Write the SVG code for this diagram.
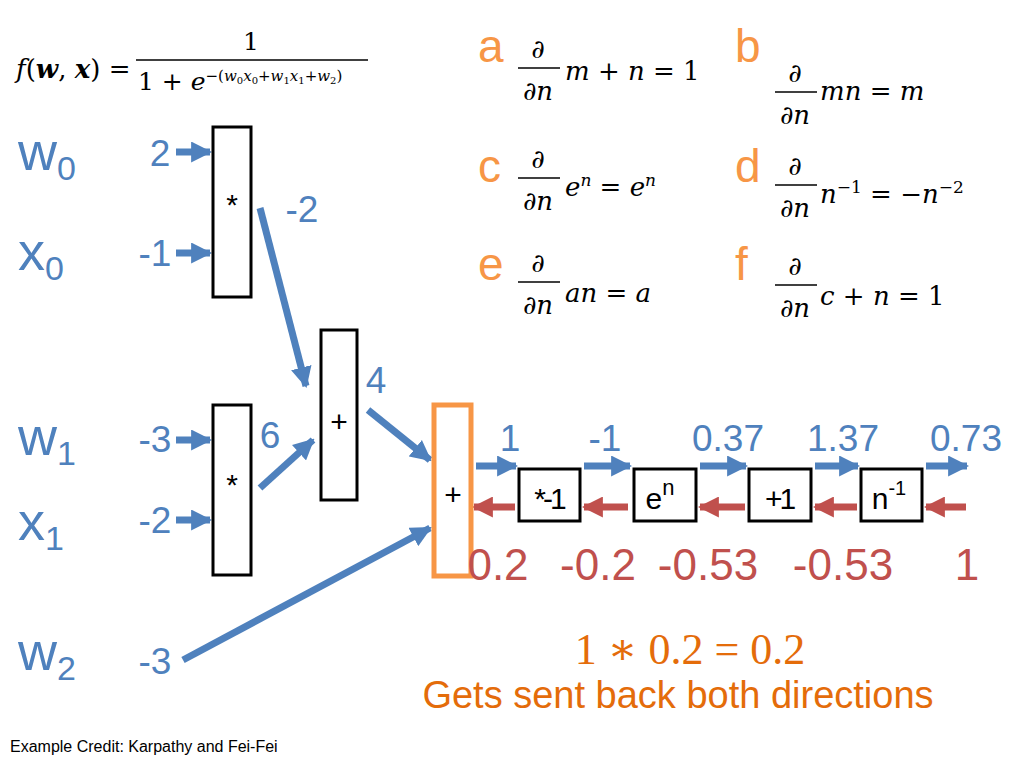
<svg xmlns="http://www.w3.org/2000/svg" width="1024" height="768" viewBox="0 0 1024 768">
<defs>
<marker id="bh" viewBox="0 0 10 10" refX="9" refY="5" markerWidth="3" markerHeight="3" orient="auto" markerUnits="strokeWidth"><path d="M0,0L10,5L0,10z" fill="#4f81bd"/></marker>
<marker id="rh" viewBox="0 0 10 10" refX="9" refY="5" markerWidth="3" markerHeight="3" orient="auto" markerUnits="strokeWidth"><path d="M0,0L10,5L0,10z" fill="#c0504d"/></marker>
</defs>
<style>
.box{fill:#fff;stroke:#000;stroke-width:3}
.op{font-family:"Liberation Sans",Arial,sans-serif;font-size:30px;fill:#000;text-anchor:middle}
.b{stroke:#4f81bd;stroke-width:7;fill:none;marker-end:url(#bh)}
.r{stroke:#c0504d;stroke-width:7;fill:none;marker-end:url(#rh)}
.bl{font-family:"Liberation Sans",Arial,sans-serif;fill:#4f81bd;font-size:37px}
.rl{font-family:"Liberation Sans",Arial,sans-serif;fill:#c0504d;font-size:44px;text-anchor:middle}
.var{font-family:"Liberation Sans",Arial,sans-serif;fill:#4f81bd;font-size:54px}
.lt{font-family:"Liberation Sans",Arial,sans-serif;fill:#f79646;font-size:46px}
.m{font-family:"DejaVu Serif","Liberation Serif",serif;font-style:italic;font-size:26px;fill:#000}
.mu{font-family:"DejaVu Serif","Liberation Serif",serif;font-size:25px;fill:#000}
</style>
<rect width="1024" height="768" fill="#fff"/>
<g id="formula">
<text x="16" y="78" class="m" font-size="22">f<tspan font-style="normal">(</tspan><tspan font-weight="bold">w</tspan><tspan font-style="normal">, </tspan><tspan font-weight="bold">x</tspan><tspan font-style="normal">) =</tspan></text>
<text x="251" y="50" class="mu" font-size="21" text-anchor="middle">1</text>
<line x1="136" y1="60" x2="368" y2="60" stroke="#000" stroke-width="1.5"/>
<text x="138" y="90" class="mu" font-size="21">1 + <tspan font-style="italic">e</tspan><tspan font-size="15" dy="-9">−(<tspan font-style="italic">w</tspan><tspan font-size="10" dy="3">0</tspan><tspan font-style="italic" dy="-3">x</tspan><tspan font-size="10" dy="3">0</tspan><tspan dy="-3">+</tspan><tspan font-style="italic">w</tspan><tspan font-size="10" dy="3">1</tspan><tspan font-style="italic" dy="-3">x</tspan><tspan font-size="10" dy="3">1</tspan><tspan dy="-3">+</tspan><tspan font-style="italic">w</tspan><tspan font-size="10" dy="3">2</tspan><tspan dy="-3">)</tspan></tspan></text>
</g>
<g id="rules">
<text x="478" y="62" class="lt">a</text>
<text x="735" y="62" class="lt">b</text>
<text x="478" y="182" class="lt">c</text>
<text x="735" y="182" class="lt">d</text>
<text x="478" y="280" class="lt">e</text>
<text x="735" y="280" class="lt">f</text>
<g class="m">
<text x="538" y="58" text-anchor="middle">∂</text><line x1="518" y1="68" x2="560" y2="68" stroke="#000" stroke-width="1.5"/><text x="538" y="100" text-anchor="middle">∂n</text>
<text x="565" y="80">m <tspan font-style="normal">+</tspan> n <tspan font-style="normal">= 1</tspan></text>
<text x="795" y="82" text-anchor="middle">∂</text><line x1="775" y1="92" x2="817" y2="92" stroke="#000" stroke-width="1.5"/><text x="795" y="124" text-anchor="middle">∂n</text>
<text x="820" y="100">mn <tspan font-style="normal">=</tspan> m</text>
<text x="538" y="168" text-anchor="middle">∂</text><line x1="518" y1="178" x2="560" y2="178" stroke="#000" stroke-width="1.5"/><text x="538" y="210" text-anchor="middle">∂n</text>
<text x="565" y="196">e<tspan font-size="17" dy="-10">n</tspan><tspan font-style="normal" dy="10"> = </tspan>e<tspan font-size="17" dy="-10">n</tspan></text>
<text x="795" y="175" text-anchor="middle">∂</text><line x1="775" y1="185" x2="817" y2="185" stroke="#000" stroke-width="1.5"/><text x="795" y="217" text-anchor="middle">∂n</text>
<text x="820" y="203">n<tspan font-size="17" dy="-10" font-style="normal">−1</tspan><tspan font-style="normal" dy="10"> = −</tspan>n<tspan font-size="17" dy="-10" font-style="normal">−2</tspan></text>
<text x="538" y="272" text-anchor="middle">∂</text><line x1="518" y1="282" x2="560" y2="282" stroke="#000" stroke-width="1.5"/><text x="538" y="314" text-anchor="middle">∂n</text>
<text x="565" y="302">an <tspan font-style="normal">=</tspan> a</text>
<text x="795" y="275" text-anchor="middle">∂</text><line x1="775" y1="285" x2="817" y2="285" stroke="#000" stroke-width="1.5"/><text x="795" y="317" text-anchor="middle">∂n</text>
<text x="820" y="305">c <tspan font-style="normal">+</tspan> n <tspan font-style="normal">= 1</tspan></text>
</g>
</g>
<g id="vars">
<text x="18" y="170" class="var">w<tspan font-size="34" dy="10">0</tspan></text>
<text x="18" y="270" class="var">x<tspan font-size="34" dy="10">0</tspan></text>
<text x="18" y="455" class="var">w<tspan font-size="34" dy="10">1</tspan></text>
<text x="18" y="540" class="var">x<tspan font-size="34" dy="10">1</tspan></text>
<text x="18" y="670" class="var">w<tspan font-size="34" dy="10">2</tspan></text>
</g>
<g id="connectors">
<line class="b" x1="176" y1="152" x2="210" y2="152"/>
<line class="b" x1="176" y1="253" x2="210" y2="253"/>
<line class="b" x1="176" y1="440" x2="210" y2="440"/>
<line class="b" x1="176" y1="520" x2="210" y2="520"/>
<line class="b" x1="260" y1="208" x2="306" y2="386"/>
<line class="b" x1="260" y1="488" x2="313" y2="440"/>
<line class="b" x1="368" y1="410" x2="430" y2="460"/>
<line class="b" x1="183" y1="660" x2="430" y2="528"/>
<line class="b" x1="476" y1="466" x2="516" y2="466"/>
<line class="b" x1="584" y1="466" x2="630" y2="466"/>
<line class="b" x1="700" y1="466" x2="746" y2="466"/>
<line class="b" x1="815" y1="466" x2="858" y2="466"/>
<line class="b" x1="926" y1="466" x2="967" y2="466"/>
<line class="r" x1="515" y1="507" x2="474" y2="507"/>
<line class="r" x1="628" y1="507" x2="584" y2="507"/>
<line class="r" x1="745" y1="507" x2="700" y2="507"/>
<line class="r" x1="857" y1="507" x2="815" y2="507"/>
<line class="r" x1="966" y1="507" x2="926" y2="507"/>
</g>
<g id="mul0"><rect class="box" x="213" y="127" width="38" height="170"/><text class="op" x="232" y="215">*</text></g>
<g id="mul1"><rect class="box" x="213" y="405" width="38" height="170"/><text class="op" x="232" y="495">*</text></g>
<g id="add0"><rect class="box" x="321" y="330" width="36" height="170"/><text class="op" x="339" y="432">+</text></g>
<g id="add1"><rect x="434" y="405" width="37" height="171" fill="#fff" stroke="#f79646" stroke-width="5"/><text class="op" x="453" y="505" font-size="26">+</text></g>
<g id="neg"><rect class="box" x="519" y="469" width="61" height="52"/><text class="op" x="549" y="509" font-size="38" letter-spacing="-3">*-1</text></g>
<g id="exp"><rect class="box" x="634" y="469" width="62" height="52"/><text class="op" x="660" y="509" font-size="40">e<tspan font-size="22" dy="-14">n</tspan></text></g>
<g id="plus1"><rect class="box" x="749" y="469" width="62" height="52"/><text class="op" x="779" y="509" font-size="38" letter-spacing="-3">+1</text></g>
<g id="inv"><rect class="box" x="861" y="469" width="61" height="52"/><text class="op" x="889" y="509" font-size="40">n<tspan font-size="20" dy="-14">-1</tspan></text></g>
<g id="values">
<text class="bl" x="160" y="166" text-anchor="middle">2</text>
<text class="bl" x="155" y="266" text-anchor="middle">-1</text>
<text class="bl" x="302" y="222" text-anchor="middle">-2</text>
<text class="bl" x="376" y="393" text-anchor="middle">4</text>
<text class="bl" x="270" y="448" text-anchor="middle">6</text>
<text class="bl" x="155" y="452" text-anchor="middle">-3</text>
<text class="bl" x="155" y="533" text-anchor="middle">-2</text>
<text class="bl" x="155" y="674" text-anchor="middle">-3</text>
<text class="bl" x="510" y="451" text-anchor="middle">1</text>
<text class="bl" x="605" y="451" text-anchor="middle">-1</text>
<text class="bl" x="728" y="451" text-anchor="middle">0.37</text>
<text class="bl" x="843" y="451" text-anchor="middle">1.37</text>
<text class="bl" x="966" y="451" text-anchor="middle">0.73</text>
<text class="rl" x="498" y="580">0.2</text>
<text class="rl" x="598" y="580">-0.2</text>
<text class="rl" x="708" y="580">-0.53</text>
<text class="rl" x="843" y="580">-0.53</text>
<text class="rl" x="967" y="580">1</text>
</g>
<text x="690" y="664" text-anchor="middle" font-family="'Liberation Serif','DejaVu Serif',serif" font-size="44" fill="#e46c0a">1 ∗ 0.2 = 0.2</text>
<text x="678" y="708" text-anchor="middle" font-family="'Liberation Sans',Arial,sans-serif" font-size="38" fill="#e46c0a">Gets sent back both directions</text>
<text x="10" y="752" font-family="'Liberation Sans',Arial,sans-serif" font-size="16" fill="#000">Example Credit: Karpathy and Fei-Fei</text>
</svg>
